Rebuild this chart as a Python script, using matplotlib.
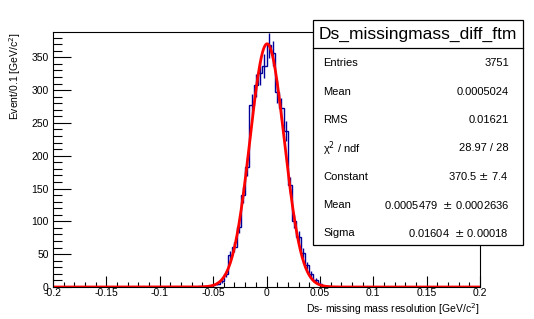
import numpy as np
import matplotlib
matplotlib.use("Agg")
import matplotlib.pyplot as plt
from matplotlib.ticker import MultipleLocator
from matplotlib.patches import Rectangle

plt.rcParams['font.family'] = ['Liberation Sans', 'DejaVu Sans']

# histogram: 100 bins over [-0.2, 0.2], counts
x_lo, x_hi, n_bins = -0.2, 0.2, 100
first_bin = 34
counts_mid = [1, 1, 2, 3, 5, 9, 20, 48, 61, 92, 140, 183, 277, 307, 326, 337,
              368, 356, 297, 272, 238, 155, 100, 76, 52, 33, 20, 11, 5, 2, 1]

# fit parameters (stat box)
fit_const = 370.5
fit_mean = 0.0005479
fit_sigma = 0.01604

title = "Ds_missingmass_diff_ftm"
stat_rows = [("Entries", "3751"),
             ("Mean", "0.0005024"),
             ("RMS", "0.01621"),
             ("χ$^{2}$ / ndf", "28.97 / 28"),
             ("Constant", "370.5 $\\pm$ 7.4"),
             ("Mean", "0.0005479  $\\pm$ 0.0002636"),
             ("Sigma", "0.01604  $\\pm$ 0.00018")]

counts = np.zeros(n_bins)
counts[first_bin:first_bin + len(counts_mid)] = counts_mid
edges = np.linspace(x_lo, x_hi, n_bins + 1)
centers = 0.5 * (edges[:-1] + edges[1:])

fig = plt.figure(figsize=(5.34, 3.19), dpi=100)
ax = fig.add_axes([0.0993, 0.1003, 0.7996, 0.7994])

ax.stairs(counts, edges, color="#000099", lw=1.0)
nz = counts > 0
ax.vlines(centers[nz], counts[nz] - np.sqrt(counts[nz]), counts[nz] + np.sqrt(counts[nz]),
          color="#000099", lw=1.0)

xf = np.linspace(x_lo, x_hi, 1000)
ax.plot(xf, fit_const * np.exp(-0.5 * ((xf - fit_mean) / fit_sigma) ** 2), color="red", lw=2.0)

ax.set_xlim(x_lo, x_hi)
ax.set_ylim(0, 388.5)
ax.xaxis.set_major_locator(MultipleLocator(0.05))
ax.xaxis.set_minor_locator(MultipleLocator(0.01))
ax.yaxis.set_major_locator(MultipleLocator(50))
ax.yaxis.set_minor_locator(MultipleLocator(10))
ax.set_xticks(np.arange(-0.2, 0.2001, 0.05))
ax.set_xticklabels(["-0.2", "-0.15", "-0.1", "-0.05", "0", "0.05", "0.1", "0.15", "0.2"])
ax.tick_params(axis="x", which="major", direction="in", length=7.7, width=0.8, labelsize=7.5, pad=1)
ax.tick_params(axis="x", which="minor", direction="in", length=3.8, width=0.8)
ax.tick_params(axis="y", which="major", direction="in", length=12.8, width=0.8, labelsize=7.5, pad=3)
ax.tick_params(axis="y", which="minor", direction="in", length=6.4, width=0.8)
for s in ax.spines.values():
    s.set_linewidth(0.8)

ax.set_xlabel("Ds- missing mass resolution [GeV/c$^{2}$]", fontsize=7.5, loc="right", labelpad=2)
ax.set_ylabel("Event/0.1 [GeV/c$^{2}$]", fontsize=7.5, loc="top", labelpad=6)

# stat box
bx0, bx1, by0, by1, bsep = 0.586, 0.979, 0.232, 0.937, 0.8486
fig.patches.append(Rectangle((bx0, by0), bx1 - bx0, by1 - by0, transform=fig.transFigure,
                             facecolor="white", edgecolor="black", lw=0.9, zorder=5))
fig.add_artist(plt.Line2D([bx0, bx1], [bsep, bsep], transform=fig.transFigure, color="black", lw=0.9, zorder=6))
fig.text((bx0 + bx1) / 2, (by1 + bsep) / 2, title, ha="center", va="center", fontsize=12.5, zorder=7)
row_y = [1 - 63.3 / 319 + i * (-28.3 / 319) for i in range(len(stat_rows))]
for (lab, val), y in zip(stat_rows, row_y):
    fig.text(0.605, y, lab, ha="left", va="center", fontsize=8, zorder=7)
    fig.text(0.953, y, val, ha="right", va="center", fontsize=8, zorder=7)

fig.savefig("out.png", dpi=100)
